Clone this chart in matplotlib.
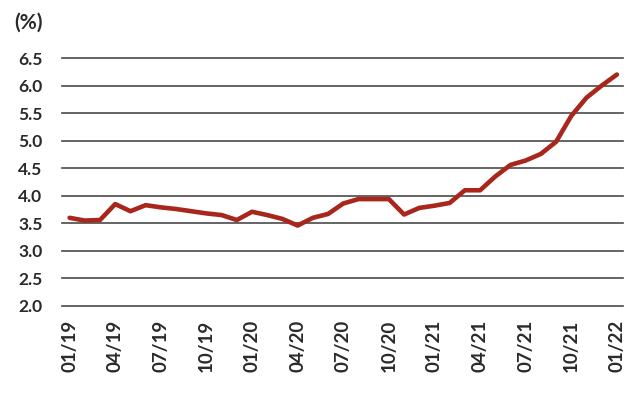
import numpy as np
import matplotlib
matplotlib.use("Agg")
from matplotlib import pyplot as plt

# monthly rate, 01/19 .. 01/22
months = ["01/19", "02/19", "03/19", "04/19", "05/19", "06/19", "07/19", "08/19", "09/19",
          "10/19", "11/19", "12/19", "01/20", "02/20", "03/20", "04/20", "05/20", "06/20",
          "07/20", "08/20", "09/20", "10/20", "11/20", "12/20", "01/21", "02/21", "03/21",
          "04/21", "05/21", "06/21", "07/21", "08/21", "09/21", "10/21", "11/21", "12/21",
          "01/22"]
rate = [3.60, 3.55, 3.56, 3.85, 3.72, 3.83, 3.79, 3.76, 3.72, 3.68, 3.65, 3.56, 3.71,
        3.65, 3.58, 3.46, 3.60, 3.67, 3.86, 3.94, 3.94, 3.94, 3.66, 3.78, 3.82, 3.87,
        4.10, 4.10, 4.35, 4.56, 4.64, 4.76, 4.98, 5.45, 5.78, 6.00, 6.20]
yticks = [2.0, 2.5, 3.0, 3.5, 4.0, 4.5, 5.0, 5.5, 6.0, 6.5]
tick_every = 3

plt.rcParams['font.family'] = ['Lato', 'DejaVu Sans']

fig = plt.figure(figsize=(6.3, 3.94), dpi=100)
ax = fig.add_axes([62/630, 1-306/394, 561/630, 248/394])

x = np.arange(len(rate))

for v in yticks:
    ax.axhline(v, color='#4a4a4a', lw=1.2, zorder=1, clip_on=False)

ax.plot(x, rate, color='#a8261c', lw=3.3, solid_joinstyle='round',
        solid_capstyle='round', zorder=3, clip_on=False)

ax.set_ylim(2.0, 6.5)
ax.set_xlim(-0.5, 36.4)
ax.set_yticks(yticks)
ax.set_yticklabels(["%.1f" % v for v in yticks], fontweight='bold')
ax.set_xticks(x[::tick_every])
ax.set_xticklabels(months[::tick_every], rotation=90, fontweight='bold')
ax.tick_params(axis='y', length=0, pad=14, labelsize=12.5, labelcolor='#2a2a2a')
ax.tick_params(axis='x', length=0, pad=10, labelsize=13.5, labelcolor='#2a2a2a')
for s in ax.spines.values():
    s.set_visible(False)

fig.text(14/630, 1-23/394, "(%)", fontsize=15, fontweight='bold', color='#2a2a2a',
         va='center', ha='left')

fig.savefig("out.png", dpi=100)
